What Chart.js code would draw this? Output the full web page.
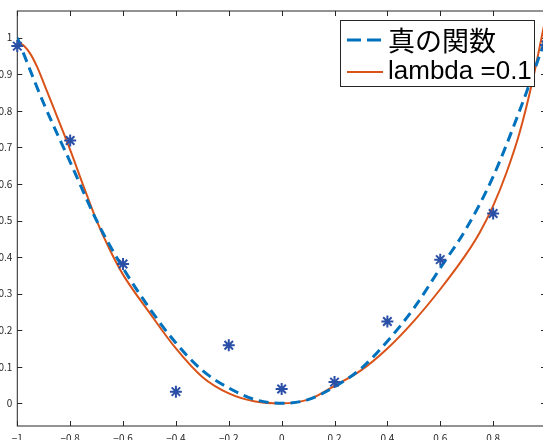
<!DOCTYPE html>
<html>
<head>
<meta charset="utf-8">
<script src="https://cdn.jsdelivr.net/npm/chart.js@4.4.1/dist/chart.umd.min.js"></script>
<style>
  html, body { margin: 0; padding: 0; background: #fff; overflow: hidden; }
  #wrap { width: 560px; height: 440px; }
</style>
</head>
<body>
<div id="wrap"><canvas id="myChart" width="560" height="440"></canvas></div>
<script>
// sample points (stars)
const sampleX = [-1, -0.8, -0.6, -0.4, -0.2, 0, 0.2, 0.4, 0.6, 0.8, 1];
const sampleY = [0.977, 0.719, 0.381, 0.032, 0.159, 0.039, 0.058, 0.224, 0.393, 0.519, 0.98];

// true function (dashed)
const trueX = [-1, -0.9, -0.8, -0.7, -0.6, -0.5, -0.4, -0.3, -0.2, -0.1, 0,
               0.1, 0.2, 0.3, 0.4, 0.5, 0.6, 0.7, 0.8, 0.9, 1];
const trueY = [1.0, 0.82, 0.66, 0.5, 0.37, 0.26, 0.165, 0.09, 0.042, 0.01, 0.0,
               0.01, 0.045, 0.095, 0.17, 0.26, 0.37, 0.48, 0.62, 0.8, 1.0];

// lambda = 0.1 fit (red)
const lambdaX = [-1, -0.975, -0.95, -0.925, -0.9, -0.85, -0.8, -0.75, -0.7, -0.65, -0.6, -0.5, -0.4, -0.3, -0.2, -0.1, 0,
                 0.1, 0.2, 0.3, 0.4, 0.5, 0.6, 0.7, 0.75, 0.8, 0.85, 0.9, 0.95, 1];
const lambdaY = [0.988, 0.978, 0.955, 0.92, 0.876, 0.785, 0.693, 0.595, 0.5, 0.42, 0.352, 0.248, 0.15, 0.072, 0.027, 0.005, 0.0,
                 0.01, 0.048, 0.09, 0.15, 0.225, 0.312, 0.41, 0.468, 0.54, 0.63, 0.74, 0.885, 1.06];

const xTicks = [-1, -0.8, -0.6, -0.4, -0.2, 0, 0.2, 0.4, 0.6, 0.8, 1];
const yTicks = [0, 0.1, 0.2, 0.3, 0.4, 0.5, 0.6, 0.7, 0.8, 0.9, 1];

const labelTrue = '真の関数';
const labelLambda = 'lambda =0.1';

function pts(xs, ys) {
  return xs.map((x, i) => ({ x: x, y: ys[i] }));
}

function fmt(v) {
  const r = Math.round(v * 10) / 10;
  return r < 0 ? '\u2212' + String(-r) : String(r);
}

// box + inward ticks like matlab
const axesBox = {
  id: 'axesBox',
  beforeDatasetsDraw(chart) {
    const c = chart.ctx, a = chart.chartArea;
    const xs = chart.scales.x, ys = chart.scales.y;
    c.save();
    c.strokeStyle = '#262626';
    c.lineWidth = 1;
    c.strokeRect(a.left, a.top, a.right - a.left, a.bottom - a.top);
    c.beginPath();
    xTicks.forEach(v => {
      const p = Math.round(xs.getPixelForValue(v)) + 0.5;
      c.moveTo(p, a.bottom); c.lineTo(p, a.bottom - 5);
      c.moveTo(p, a.top); c.lineTo(p, a.top + 5);
    });
    yTicks.forEach(v => {
      const p = Math.round(ys.getPixelForValue(v)) + 0.5;
      c.moveTo(a.left, p); c.lineTo(a.left + 5, p);
      c.moveTo(a.right, p); c.lineTo(a.right - 5, p);
    });
    c.stroke();
    c.restore();
  }
};

// legend box top right
const boxLegend = {
  id: 'boxLegend',
  afterDraw(chart) {
    const c = chart.ctx;
    c.save();
    c.fillStyle = '#fff';
    c.fillRect(340.5, 20.5, 194, 66);
    c.strokeStyle = '#262626';
    c.lineWidth = 1;
    c.strokeRect(340.5, 20.5, 194, 66);

    c.strokeStyle = '#0072BD';
    c.lineWidth = 3;
    c.setLineDash([14, 6]);
    c.beginPath(); c.moveTo(347, 40); c.lineTo(383, 40); c.stroke();
    c.setLineDash([]);
    c.strokeStyle = '#D95319';
    c.lineWidth = 2;
    c.beginPath(); c.moveTo(347, 72); c.lineTo(383, 72); c.stroke();

    c.fillStyle = '#000';
    c.textBaseline = 'middle';
    c.font = '27px "Noto Sans CJK JP"';
    c.fillText(labelTrue, 388, 41);
    c.font = '26px "Liberation Sans", Arial, sans-serif';
    c.fillText(labelLambda, 388, 72);
    c.restore();
  }
};

const ctx = document.getElementById('myChart');

new Chart(ctx, {
  type: 'scatter',
  data: {
    datasets: [{
      label: 'samples',
      data: pts(sampleX, sampleY),
      showLine: false,
      pointStyle: 'star',
      pointRadius: 6,
      borderColor: '#2a4fa6',
      backgroundColor: '#2a4fa6',
      pointBorderWidth: 2,
      clip: false
    }, {
      label: labelTrue,
      data: pts(trueX, trueY),
      showLine: true,
      borderColor: '#0072BD',
      borderWidth: 3,
      borderDash: [10, 6],
      pointRadius: 0,
      cubicInterpolationMode: 'monotone'
    }, {
      label: labelLambda,
      data: pts(lambdaX, lambdaY),
      showLine: true,
      borderColor: '#D95319',
      borderWidth: 2,
      pointRadius: 0,
      cubicInterpolationMode: 'monotone'
    }]
  },
  options: {
    responsive: false,
    animation: false,
    layout: {
      padding: { top: 9.5, right: 14, left: 0, bottom: 0 }
    },
    plugins: {
      legend: { display: false },
      tooltip: { enabled: false }
    },
    scales: {
      x: {
        type: 'linear',
        min: -1,
        max: 1,
        afterBuildTicks: s => { s.ticks = xTicks.map(v => ({ value: v })); },
        afterFit: s => { s.height = 14; },
        grid: { display: false, drawTicks: false },
        border: { display: false },
        ticks: {
          padding: 6,
          maxRotation: 0,
          color: '#262626',
          font: { family: '"Noto Sans CJK JP"', size: 10 },
          callback: v => fmt(v)
        }
      },
      y: {
        type: 'linear',
        min: -0.062,
        max: 1.073,
        afterBuildTicks: s => { s.ticks = yTicks.map(v => ({ value: v })); },
        afterFit: s => { s.width = 17.3; },
        grid: { display: false, drawTicks: false },
        border: { display: false },
        ticks: {
          padding: 5,
          color: '#262626',
          font: { family: '"Noto Sans CJK JP"', size: 10 },
          callback: v => fmt(v)
        }
      }
    }
  },
  plugins: [axesBox, boxLegend]
});
</script>
</body>
</html>
